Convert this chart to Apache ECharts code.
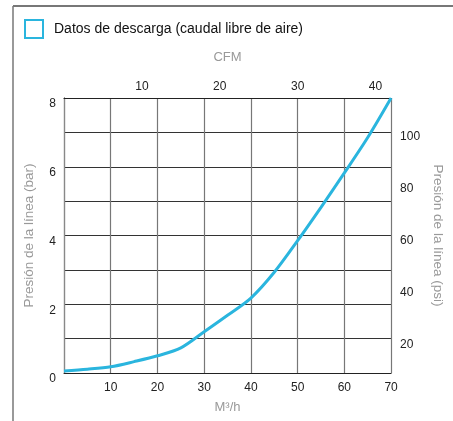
<!DOCTYPE html>
<html>
<head>
<meta charset="utf-8">
<script src="https://cdn.jsdelivr.net/npm/echarts@6/dist/echarts.min.js"></script>
<style>
html,body{margin:0;padding:0;background:#fff;overflow:hidden;}
#c{width:453px;height:421px;}
</style>
</head>
<body>
<div id="c"></div>
<script>
// Data
const flowM3h = [0, 5, 10, 15, 20, 25, 30, 35, 40, 45, 50, 55, 60, 65, 70];
const pressureBar = [0.06, 0.11, 0.18, 0.33, 0.5, 0.73, 1.2, 1.68, 2.18, 2.93, 3.85, 4.82, 5.82, 6.85, 8.0];
const seriesName = 'Datos de descarga (caudal libre de aire)';
const psiTickLabels = [20, 40, 60, 80, 100];
const barRange = [0, 8];
const m3hRange = [0, 70];
const cfmRange = [0, 42];
const psiRange = [9.23, 115];

const chart = echarts.init(document.getElementById('c'), null, {renderer: 'canvas'});
const font = 'Liberation Sans, Arial, Helvetica, sans-serif';
const lineColor = '#2ab5de';

chart.setOption({
  animation: false,
  textStyle: {fontFamily: font},
  legend: {
    data: [seriesName],
    left: 24, top: 19, padding: 0,
    icon: 'rect',
    itemWidth: 18, itemHeight: 18,
    itemGap: 10,
    itemStyle: {color: '#fff', borderColor: lineColor, borderWidth: 2},
    textStyle: {fontSize: 14, color: '#111', fontFamily: font, padding: [0, 0, 0, 6]}
  },
  graphic: [
    {type: 'line', silent: true, shape: {x1: 13, y1: 6, x2: 453, y2: 6}, style: {stroke: '#777', lineWidth: 2}},
    {type: 'line', silent: true, shape: {x1: 13, y1: 6, x2: 13, y2: 421}, style: {stroke: '#777', lineWidth: 1.5}}
  ],
  grid: {left: 64, top: 98, right: 55, bottom: 48, containLabel: false},
  xAxis: [
    {
      type: 'value', position: 'bottom', min: m3hRange[0], max: m3hRange[1], interval: 10,
      name: 'M³/h', nameLocation: 'middle', nameGap: 28,
      nameTextStyle: {color: '#999', fontSize: 13, fontFamily: font},
      axisLine: {show: true, lineStyle: {color: '#222', width: 1}},
      axisTick: {show: false},
      axisLabel: {color: '#222', fontSize: 12, margin: 9, fontFamily: font,
        formatter: v => v === 0 ? '' : String(v)},
      splitLine: {show: true, lineStyle: {color: '#777', width: 1.2}}
    },
    {
      type: 'value', position: 'top', min: cfmRange[0], max: cfmRange[1], interval: 10,
      name: 'CFM', nameLocation: 'middle', nameGap: 34,
      nameTextStyle: {color: '#999', fontSize: 13, fontFamily: font},
      axisLine: {show: true, lineStyle: {color: '#222', width: 1}},
      axisTick: {show: false},
      axisLabel: {color: '#222', fontSize: 12, margin: 5, fontFamily: font,
        formatter: v => (v === 0 || v % 10 !== 0) ? '' : String(v)},
      splitLine: {show: false}
    }
  ],
  yAxis: [
    {
      type: 'value', position: 'left', min: barRange[0], max: barRange[1], interval: 1,
      name: 'Presión de la línea (bar)', nameLocation: 'middle', nameGap: 28,
      nameTextStyle: {color: '#999', fontSize: 13.5, fontFamily: font},
      axisLine: {show: true, lineStyle: {color: '#222', width: 1}},
      axisTick: {show: false},
      axisLabel: {color: '#222', fontSize: 12, margin: 8, fontFamily: font, verticalAlign: 'top',
        formatter: v => (v % 2 === 0) ? String(v) : ''},
      splitLine: {show: true, lineStyle: {color: '#333', width: 1}}
    },
    {
      type: 'value', position: 'right', min: psiRange[0], max: psiRange[1],
      name: 'Presión de la línea (psi)', nameLocation: 'middle', nameGap: 33, nameRotate: -90,
      nameTextStyle: {color: '#999', fontSize: 13.5, fontFamily: font},
      axisLine: {show: true, lineStyle: {color: '#888', width: 1.2}},
      axisTick: {show: false},
      axisLabel: {color: '#222', fontSize: 12, margin: 9, fontFamily: font,
        customValues: psiTickLabels},
      splitLine: {show: false}
    }
  ],
  series: [{
    name: seriesName,
    type: 'line',
    xAxisIndex: 0, yAxisIndex: 0,
    smooth: 0.3,
    symbol: 'none',
    lineStyle: {color: lineColor, width: 3},
    itemStyle: {color: lineColor},
    data: flowM3h.map((x, i) => [x, pressureBar[i]])
  }]
});
</script>
</body>
</html>
